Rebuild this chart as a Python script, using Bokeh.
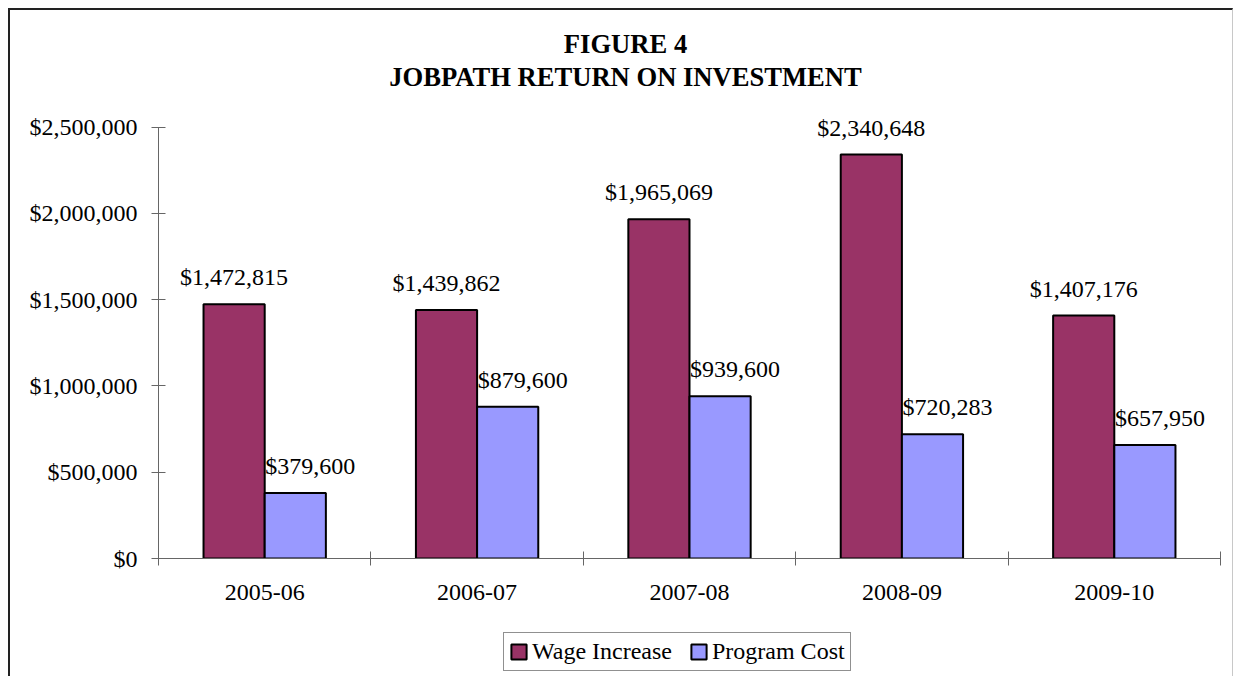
from bokeh.plotting import figure
from bokeh.layouts import column
from bokeh.models import (ColumnDataSource, Range1d, FixedTicker, NumeralTickFormatter,
                          LabelSet, Label, Legend, LegendItem)
from bokeh.transform import dodge
from bokeh.embed import file_html
from bokeh.resources import INLINE

categories = ["2005-06", "2006-07", "2007-08", "2008-09", "2009-10"]
wage_increase = [1472815, 1439862, 1965069, 2340648, 1407176]
program_cost = [379600, 879600, 939600, 720283, 657950]
y_ticks = [0, 500000, 1000000, 1500000, 2000000, 2500000]

FONT = "Liberation Serif"
WAGE_COLOR = "#993366"
COST_COLOR = "#9999FF"

xpos = [i + 0.5 for i in range(len(categories))]
src = ColumnDataSource(dict(
    x=xpos,
    wage=wage_increase,
    cost=program_cost,
    wage_lbl=["${:,}".format(v) for v in wage_increase],
    cost_lbl=["${:,}".format(v) for v in program_cost],
))

W = 1222
H_CHART, H_LEG = 610, 56
FRAME_H = 548          # frame spans from top of canvas down to the x axis
AXIS_PX = 431.5        # pixel height of the 0..2.5M axis
y_top = y_ticks[-1] * FRAME_H / AXIS_PX

p = figure(width=W, height=H_CHART, output_backend="svg", toolbar_location=None,
           x_range=Range1d(0, len(categories)), y_range=Range1d(0, y_top),
           min_border_left=148, min_border_right=12, min_border_top=0,
           min_border_bottom=H_CHART - FRAME_H)
p.title = None
p.outline_line_color = None
p.xgrid.visible = False
p.ygrid.visible = False
p.background_fill_color = "white"
p.border_fill_color = "white"

bw = 0.288
bar_kw = dict(width=bw, source=src, line_color="black", line_width=2)
r1 = p.vbar(x=dodge("x", -0.144, range=p.x_range), top="wage", fill_color=WAGE_COLOR, **bar_kw)
r2 = p.vbar(x=dodge("x", 0.144, range=p.x_range), top="cost", fill_color=COST_COLOR, **bar_kw)

lbl_kw = dict(text_font=FONT, text_font_size="24px", text_color="black",
              text_align="center", text_baseline="alphabetic", y_offset=19)
p.add_layout(LabelSet(x=dodge("x", -0.144, range=p.x_range), y="wage", text="wage_lbl",
                      source=src, **lbl_kw))
p.add_layout(LabelSet(x=dodge("x", 0.144, range=p.x_range), y="cost", text="cost_lbl",
                      source=src, x_offset=15, **lbl_kw))

# y axis
ya = p.yaxis[0]
ya.ticker = FixedTicker(ticks=y_ticks, minor_ticks=[])
ya.bounds = (y_ticks[0], y_ticks[-1])
ya.formatter = NumeralTickFormatter(format="$0,0")
ya.major_label_text_font = FONT
ya.major_label_text_font_size = "24px"
ya.major_label_text_color = "black"
ya.major_tick_in = 7
ya.major_tick_out = 7
ya.major_label_standoff = 14
ya.axis_line_color = "#666666"
ya.major_tick_line_color = "#666666"
ya.minor_tick_line_color = None

# x axis
xa = p.xaxis[0]
xa.ticker = FixedTicker(ticks=xpos, minor_ticks=list(range(len(categories) + 1)))
xa.major_label_overrides = {x: c for x, c in zip(xpos, categories)}
xa.major_label_text_font = FONT
xa.major_label_text_font_size = "24px"
xa.major_label_text_color = "black"
xa.major_tick_line_color = None
xa.major_tick_in = 0
xa.major_tick_out = 0
xa.minor_tick_in = 7
xa.minor_tick_out = 7
xa.minor_tick_line_color = "#666666"
xa.axis_line_color = "#666666"
xa.major_label_standoff = 19

# title (two lines), positioned in screen px relative to the frame's bottom-left
title_kw = dict(x_units="screen", y_units="screen", text_font=FONT, text_font_size="26.6px",
                text_font_style="bold", text_align="center", text_baseline="alphabetic",
                text_color="black")
p.add_layout(Label(x=467, y=FRAME_H - 33, text="FIGURE 4", **title_kw))
p.add_layout(Label(x=467, y=FRAME_H - 66, text="JOBPATH RETURN ON INVESTMENT", **title_kw))

# legend strip below the chart
pl = figure(width=W, height=H_LEG, output_backend="svg", toolbar_location=None,
            x_range=Range1d(0, len(categories)), y_range=Range1d(0, 1),
            x_axis_type=None, y_axis_type=None,
            min_border_left=148, min_border_right=12, min_border_top=0, min_border_bottom=0)
pl.title = None
pl.outline_line_color = None
pl.xgrid.visible = False
pl.ygrid.visible = False
l1 = pl.vbar(x="x", top="wage", fill_color=WAGE_COLOR, **bar_kw)
l2 = pl.vbar(x="x", top="cost", fill_color=COST_COLOR, **bar_kw)
l1.visible = False
l2.visible = False
legend = Legend(items=[LegendItem(label="Wage Increase", renderers=[l1]),
                       LegendItem(label="Program Cost", renderers=[l2])],
                orientation="horizontal", location=(345, 5),
                label_text_font=FONT, label_text_font_size="24px", label_text_color="black",
                glyph_width=19, glyph_height=19, label_standoff=4, spacing=17,
                padding=5, margin=0, border_line_color="#222222", border_line_width=1,
                background_fill_color="white", background_fill_alpha=1.0,
                inactive_fill_alpha=0.0, label_height=22)
pl.add_layout(legend, "center")

layout = column(p, pl, spacing=0)
layout.styles = {"margin": "8px 0 0 8px",
                 "border-top": "2px solid #222", "border-left": "2px solid #222",
                 "border-right": "1px solid #c8c8c8"}

open("out.html", "w").write(file_html(layout, INLINE))
